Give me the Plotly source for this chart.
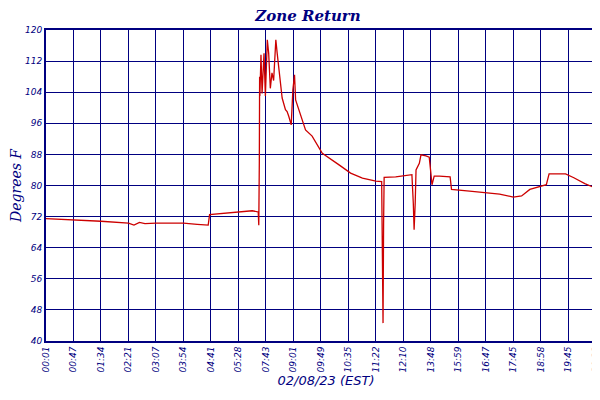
import plotly.graph_objects as go

tick_labels = ["00:01","00:47","01:34","02:21","03:07","03:54","04:41","05:28","07:43","09:01",
               "09:49","10:35","11:22","12:10","13:48","15:59","16:47","17:45","18:58","19:45","20:32","20:51"]
tick_pos = list(range(21)) + [20.37]

x_vals = [0,1,2,3,3.2,3.4,3.6,4,5,5.5,5.9,5.95,6.5,7,7.5,7.72,7.74,7.76,7.77,7.78,
          7.82,7.86,7.93,7.98,8.05,8.10,8.16,8.22,8.28,8.36,8.41,8.47,8.53,8.59,8.71,8.77,8.83,8.92,8.98,9.04,
          9.08,9.20,9.44,9.68,10.05,10.66,11.08,11.51,12.0,12.21,12.23,12.26,12.28,12.30,12.72,13.31,13.36,13.39,13.43,13.46,
          13.58,13.64,13.82,13.94,14.0,14.04,14.12,14.31,14.7,14.75,15.5,16.5,17.0,17.3,17.6,18.1,18.2,18.3,18.9,19.2,
          19.6,20.0,20.37]
y_vals = [71.5,71.2,70.8,70.3,69.8,70.5,70.2,70.3,70.3,70.0,69.8,72.5,72.8,73.2,73.5,73.2,69.8,86.3,108,103,
          113.6,103.7,114,103,117.5,114,105,109,107,117.5,114,110,106.4,102.5,99.5,99,97.8,95.6,104.6,108.5,
          102,99.5,94.3,92.7,88.3,85.3,83.2,81.9,81.1,81.0,62.6,44.6,70,82.1,82.2,82.8,75.5,68.6,75.5,84,
          85.7,87.9,87.6,87.3,83.2,80.2,82.4,82.4,82.2,79,78.5,77.8,77,77.3,79,80,80.2,83,83,82,
          80.5,79.3,77.3]

navy = "#000080"
fig = go.Figure(go.Scatter(x=x_vals, y=y_vals, mode="lines", line=dict(color="#cc0000", width=1.3),
                           name="Zone Return"))
fig.update_layout(
    width=600, height=400, paper_bgcolor="white", plot_bgcolor="white",
    margin=dict(l=38, r=2, t=22, b=67, autoexpand=False),
    title=dict(text="Zone Return", x=0.5, y=0.995, yanchor="top",
               font=dict(family="DejaVu Serif", size=15, color=navy, style="italic", weight="bold")),
    showlegend=True,
    legend=dict(orientation="h", x=0.5, xanchor="center", y=-0.2, yanchor="top",
                font=dict(family="DejaVu Sans", size=11, color=navy, style="italic")),
    xaxis=dict(range=[0, 20.37], tickvals=tick_pos, ticktext=tick_labels, tickangle=-90, automargin=False,
               showgrid=True, gridcolor=navy, gridwidth=1, showline=True, linecolor=navy, linewidth=2,
               mirror=True, ticks="", zeroline=False,
               tickfont=dict(family="DejaVu Sans", size=9, color=navy, style="italic"),
               title=dict(text="02/08/23 (EST)", standoff=2,
                          font=dict(family="DejaVu Sans", size=13, color=navy, style="italic"))),
    yaxis=dict(range=[40, 120], tickvals=list(range(40, 121, 8)), showgrid=True, gridcolor=navy, gridwidth=1,
               automargin=False,
               showline=True, linecolor=navy, linewidth=2, mirror=True, ticks="", zeroline=False,
               tickfont=dict(family="DejaVu Sans", size=9, color=navy, style="italic"),
               title=dict(text="Degrees F", standoff=2,
                          font=dict(family="DejaVu Serif", size=14, color=navy, style="italic"))),
)
fig.write_html("out.html")
